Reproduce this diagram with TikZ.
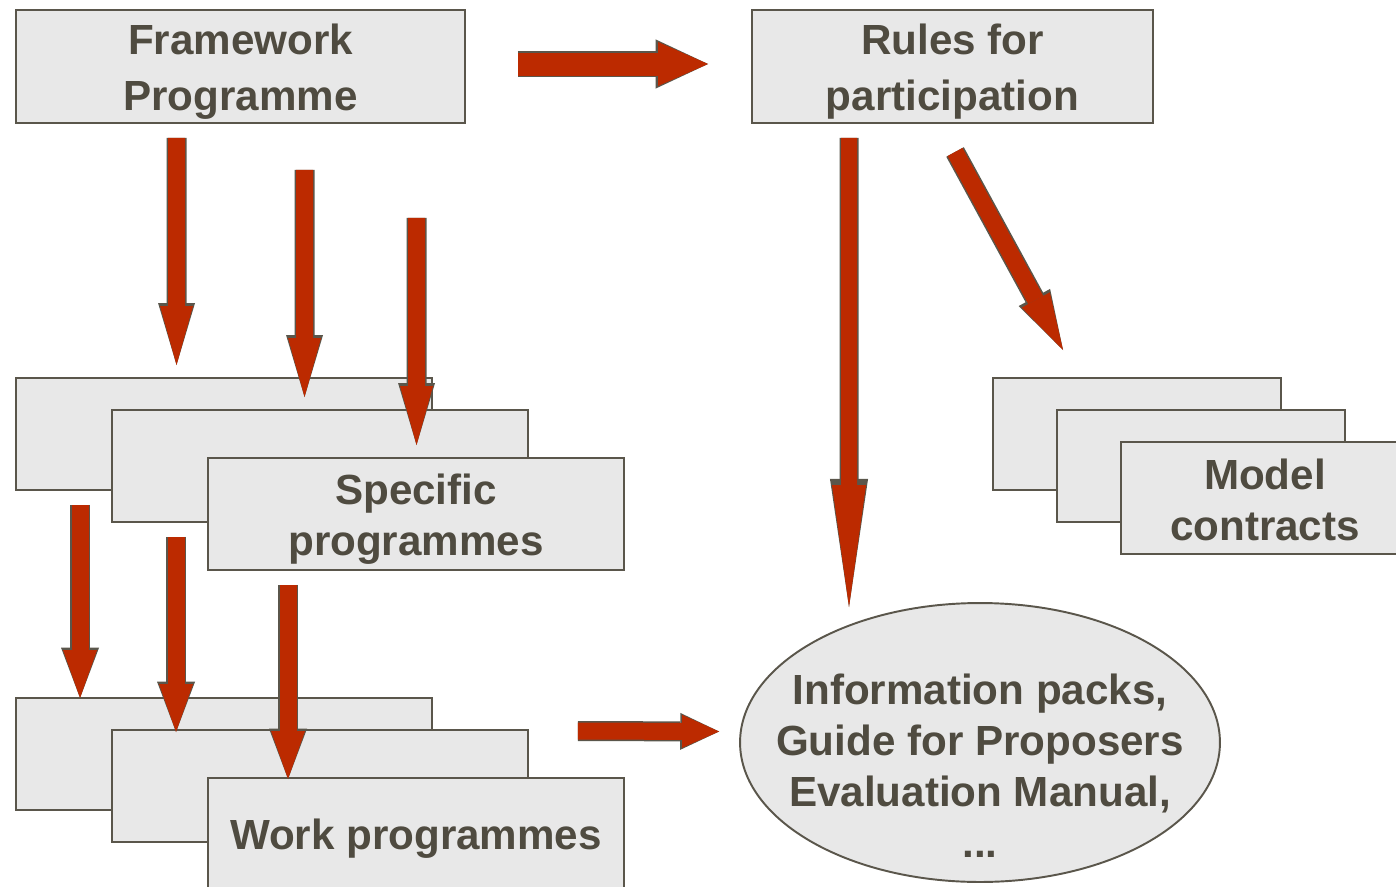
\documentclass[tikz,border=0pt]{standalone}
\usepackage{fontspec}
\setmainfont{Liberation Sans}
\usepackage{tikz}
\usetikzlibrary{arrows.meta,shapes.geometric,calc}
\usepackage{xcolor}

\definecolor{arrowred}{RGB}{188,42,0}
\definecolor{edgegrey}{RGB}{90,86,75}
\definecolor{boxgrey}{RGB}{232,232,232}
\definecolor{textgrey}{RGB}{79,75,64}

\newcommand{\tallline}{\rule{0pt}{23pt}}

\tikzset{
  box/.style={draw=edgegrey, line width=1.1pt, fill=boxgrey, inner sep=0pt, outer sep=0pt,
    minimum width=8.32cm, minimum height=2.24cm, text=textgrey, align=center,
    font=\bfseries\fontsize{24}{29}\selectfont},
  topbox/.style={box, minimum height=2.26cm, font=\bfseries\fontsize{24}{32}\selectfont},
  redarrow/.style n args={3}{draw=arrowred, line width=#1,
    -{Triangle[length=#2, width=#3, line width=0pt]},
    preaction={draw=edgegrey, line width=#1+0.06cm,
      -{Triangle[length=#2, width=#3, scale length=1.05, scale width=1.12, line width=0pt]}}}
}

\begin{document}
\begin{tikzpicture}[x=0.02cm, y=-0.02cm]
    \useasboundingbox (0,0) rectangle (1396,886);
    \clip (0,0) rectangle (1396,886);

    % Top row
    \node[topbox, minimum width=8.98cm] (fp) at (240.5,66.5) {\tallline Framework\\Programme};
    \node[topbox, minimum width=8.02cm] (rules) at (952.5,66.5) {\tallline Rules for\\participation};

    % Specific programmes
    \node[box] (sp1) at (224,434) {};
    \node[box] (sp2) at (320,466) {};
    \node[box] (sp3) at (416,514) {\tallline Specific\\programmes};

    % Work programmes
    \node[box] (wp1) at (224,754) {};
    \node[box] (wp2) at (320,786) {};
    \node[box] (wp3) at (416,834) {\tallline Work programmes};

    % Model contracts
    \node[box, minimum width=5.76cm] (mc1) at (1137,434) {};
    \node[box, minimum width=5.76cm] (mc2) at (1201,466) {};
    \node[box, minimum width=5.76cm] (mc3) at (1265,498) {\rule{0pt}{20pt}Model\\contracts};

    % Information packs
    \node[ellipse, draw=edgegrey, line width=1.1pt, fill=boxgrey, inner sep=0pt,
      minimum width=9.6cm, minimum height=5.58cm] (info) at (980,742.5) {};
    \node[text=textgrey, align=center, font=\bfseries\fontsize{24}{29}\selectfont]
      (infotext) at ($(info.center)+(0,23)$)
      {Information packs,\\Guide for Proposers\\Evaluation Manual,\\...};

    % Arrows
    \draw[redarrow={0.46cm}{1.0cm}{0.88cm}] ($(fp.east)+(53,-2.5)$) -- ($(rules.west)+(-44,-2.5)$);

    \draw[redarrow={0.34cm}{1.18cm}{0.66cm}] ($(fp.south west)+(160.5,15)$) -- ($(sp1.north west)+(160.5,-13)$);
    \draw[redarrow={0.34cm}{1.18cm}{0.66cm}] ($(fp.south west)+(288.5,47)$) -- ($(sp1.north west)+(288.5,19)$);
    \draw[redarrow={0.34cm}{1.18cm}{0.66cm}] ($(fp.south west)+(400.5,95)$) -- ($(sp2.north west)+(304.5,35)$);

    \draw[redarrow={0.34cm}{0.96cm}{0.68cm}] ($(sp1.south west)+(64,15)$) -- ($(wp1.north west)+(64,0)$);
    \draw[redarrow={0.34cm}{0.96cm}{0.68cm}] ($(sp2.south west)+(64,15)$) -- ($(wp2.north west)+(64,2)$);
    \draw[redarrow={0.34cm}{0.96cm}{0.68cm}] ($(sp3.south west)+(80,15)$) -- ($(wp3.north west)+(80,1)$);

    \draw[redarrow={0.34cm}{0.74cm}{0.66cm}] ($(wp2.north east)+(50,1)$) -- ($(info.west)+(-20,-11)$);

    \draw[redarrow={0.32cm}{2.44cm}{0.68cm}] ($(rules.south west)+(97,15)$) -- ($(info.north)+(-131,5)$);
    \draw[redarrow={0.34cm}{1.14cm}{0.64cm}] ($(rules.south west)+(203,29)$) -- ($(mc1.north west)+(70,-28)$);
\end{tikzpicture}
\end{document}
